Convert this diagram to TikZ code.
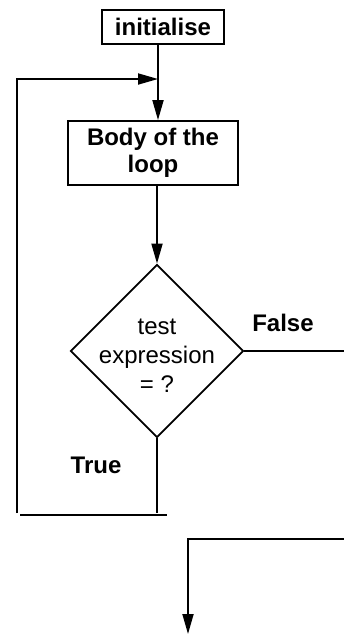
\documentclass[tikz,border=0pt]{standalone}
\usepackage{fontspec}
\setmainfont{Liberation Sans}
\usetikzlibrary{shapes.geometric,arrows.meta}
\begin{document}
\begin{tikzpicture}[x=1pt,y=-1pt,
  line width=1.8pt,
  tip/.style={-{Triangle[length=20pt,width=11pt]}},
  procbox/.style={draw,inner sep=0pt,font=\fontsize{24}{27}\selectfont\bfseries,align=center},
  lbl/.style={font=\fontsize{24}{27}\selectfont\bfseries,inner sep=0pt}]
\useasboundingbox (0,0) rectangle (344,635);
\node[procbox,minimum width=122pt,minimum height=34pt] (init) at (163,27) {initialise};
\node[procbox,minimum width=170pt,minimum height=64pt] (body) at (153,153) {Body of the\\loop};
\node[draw,diamond,minimum width=173pt,minimum height=173pt,inner sep=0pt] (test) at (157,351) {};
\node[align=center,font=\fontsize{24}{29}\selectfont,inner sep=0pt] (ttext) at (157,356) {test\\expression\\= ?};
\node[lbl] (false) at (283,323) {False};
\node[lbl] (true) at (96,465) {True};
\coordinate (j) at (158,79);
\coordinate (ll) at (17,79);
\coordinate (lb) at (17,513);
\coordinate (tb) at (157,513);
\coordinate (hl) at (20,515);
\coordinate (hr) at (167,515);
\coordinate (fe) at (344,351);
\coordinate (re) at (344,539);
\coordinate (rc) at (188,539);
\coordinate (rb) at (188,634);
\draw[tip] (init.south -| j) -- (j |- body.north);
\draw[tip] (lb) -- (ll) -- (j);
\draw[tip] (test.north |- body.south) -- (test.north);
\draw (test.south) -- (tb);
\draw (hl) -- (hr);
\draw (test.east) -- (fe);
\draw[tip] (re) -- (rc) -- (rb);
\end{tikzpicture}
\end{document}
